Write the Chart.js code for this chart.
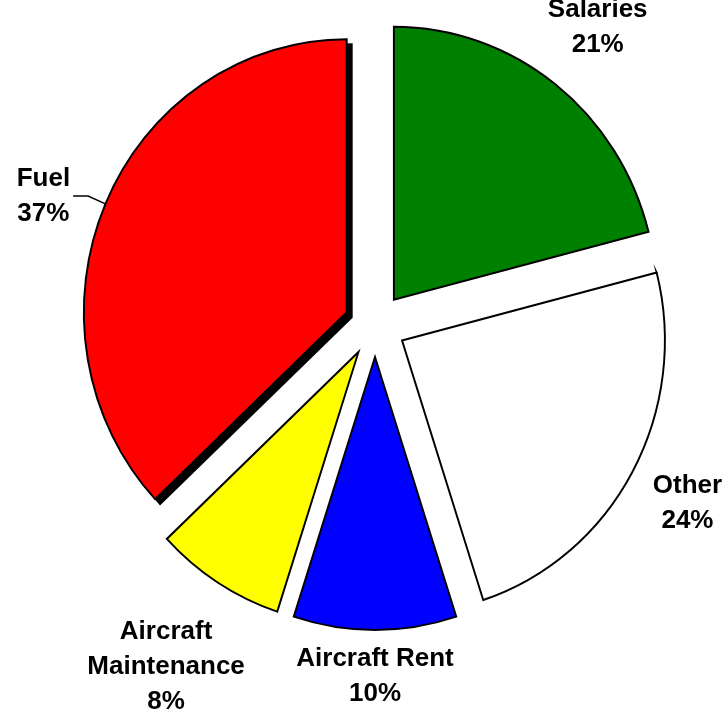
<!DOCTYPE html>
<html>
<head>
<meta charset="utf-8">
<script src="https://cdn.jsdelivr.net/npm/chart.js@4.4.1/dist/chart.umd.min.js"></script>
<style>
html, body { margin: 0; padding: 0; background: #ffffff; }
#wrap { width: 723px; height: 709px; position: relative; }
</style>
</head>
<body>
<div id="wrap"><canvas id="c"></canvas></div>
<script>
// ---- data ----
const categories = ['Salaries', 'Other', 'Aircraft Rent', ['Aircraft', 'Maintenance'], 'Fuel'];
const costShares = [21, 24, 10, 8, 37];
const sliceColors = ['#008000', '#FFFFFF', '#0000FF', '#FFFF00', '#FF0000'];
const shadowedSlices = [false, false, false, false, true];
const leaderSlices = [false, false, false, false, true];

// ---- style constants ----
const EXPLODE = 32;          // slice explosion distance (px)
const X_SCALE = 0.963;       // pie is slightly narrower than tall
const LABEL_FONT = 'bold 26px "Liberation Sans", Arial, sans-serif';
const LINE_H = 35;
const CAP_H = 18.6;
const LABEL_GAP = 20;
const LEADER_LEN = 19;

const explodedPie = {
  id: 'explodedPie',
  beforeDatasetDraw(chart, args) {
    const ctx = chart.ctx;
    const els = args.meta.data;
    if (!els.length) return false;
    const cx = els[0].x, cy = els[0].y;
    ctx.save();
    ctx.translate(cx, cy);
    ctx.scale(X_SCALE, 1);
    ctx.translate(-cx, -cy);
    const drawEl = (el, dx, dy, override) => {
      const mid = (el.startAngle + el.endAngle) / 2;
      ctx.save();
      ctx.translate(Math.cos(mid) * EXPLODE + dx, Math.sin(mid) * EXPLODE + dy);
      if (override) {
        const o = el.options;
        el.options = Object.assign({}, o, override);
        el.draw(ctx);
        el.options = o;
      } else {
        el.draw(ctx);
      }
      ctx.restore();
    };
    els.forEach((el, i) => {
      if (shadowedSlices[i]) drawEl(el, 5 / X_SCALE, 5, { backgroundColor: '#000000', borderColor: '#000000' });
    });
    els.forEach(el => drawEl(el, 0, 0));
    ctx.restore();
    return false;
  },
  afterDatasetsDraw(chart) {
    const ctx = chart.ctx;
    const els = chart.getDatasetMeta(0).data;
    const total = costShares.reduce((a, b) => a + b, 0);
    ctx.save();
    ctx.font = LABEL_FONT;
    ctx.fillStyle = '#000000';
    ctx.textAlign = 'center';
    ctx.textBaseline = 'middle';
    els.forEach((el, i) => {
      const cat = categories[i];
      const lines = Array.isArray(cat) ? cat.slice() : [cat];
      lines.push(Math.round(costShares[i] / total * 100) + '%');
      const w = Math.max(...lines.map(l => ctx.measureText(l).width));
      const h = (lines.length - 1) * LINE_H + CAP_H;
      const mid = (el.startAngle + el.endAngle) / 2;
      const ux = Math.cos(mid), uy = Math.sin(mid);
      const R = el.outerRadius + EXPLODE;
      const px = el.x + X_SCALE * R * ux;
      const py = el.y + R * uy;
      const sl = Math.hypot(X_SCALE * ux, uy);
      const sx = X_SCALE * ux / sl, sy = uy / sl;
      let lx, ly;
      if (leaderSlices[i]) {
        const ex = px + sx * LEADER_LEN, ey = py + sy * LEADER_LEN;
        const dir = sx < 0 ? -1 : 1;
        ctx.beginPath();
        ctx.moveTo(px, py);
        ctx.lineTo(ex, ey);
        ctx.lineTo(ex + dir * 15, ey);
        ctx.lineWidth = 1.5;
        ctx.strokeStyle = '#000000';
        ctx.stroke();
        lx = ex + dir * (18 + w / 2);
        ly = ey;
      } else {
        const ext = Math.abs(sx) * w / 2 + Math.abs(sy) * h / 2;
        const d = LABEL_GAP + ext;
        lx = px + sx * d;
        ly = py + sy * d;
      }
      lines.forEach((l, k) => {
        ctx.fillText(l, lx, ly + (k - (lines.length - 1) / 2) * LINE_H);
      });
    });
    ctx.restore();
  }
};

new Chart(document.getElementById('c'), {
  type: 'pie',
  data: {
    labels: categories,
    datasets: [{
      data: costShares,
      backgroundColor: sliceColors,
      borderColor: '#000000',
      borderWidth: 2,
      borderJoinStyle: 'miter',
      offset: 0,
      hoverOffset: 0,
      clip: false
    }]
  },
  options: {
    responsive: true,
    maintainAspectRatio: false,
    animation: false,
    events: [],
    radius: 273,
    layout: { padding: { left: 27, right: 0, top: 0, bottom: 59 } },
    plugins: {
      legend: { display: false },
      tooltip: { enabled: false }
    }
  },
  plugins: [explodedPie]
});
</script>
</body>
</html>
